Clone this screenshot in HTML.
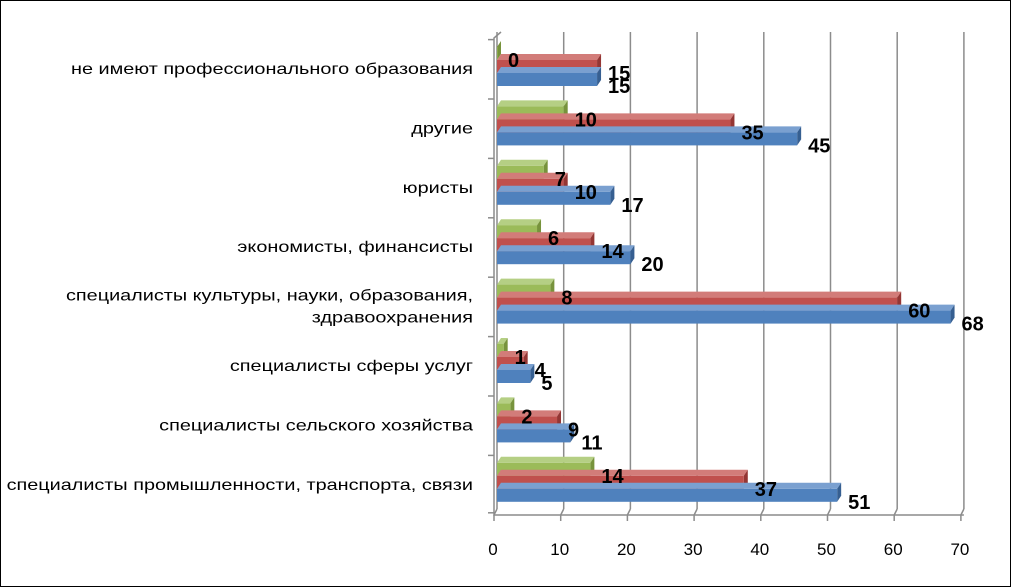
<!DOCTYPE html>
<html><head><meta charset="utf-8"><style>
body{margin:0;background:#fff;}
svg{display:block;font-family:"Liberation Sans","DejaVu Sans",sans-serif;}
</style></head><body>
<svg id="c" width="1011" height="587" xmlns="http://www.w3.org/2000/svg">
<rect x="0.5" y="0.5" width="1010" height="586" fill="#fff" stroke="#000"/>
</svg>
<script>
const categories=["не имеют профессионального образования","другие","юристы","экономисты, финансисты","специалисты культуры, науки, образования,|здравоохранения","специалисты сферы услуг","специалисты сельского хозяйства","специалисты промышленности, транспорта, связи"];
const blueValues=[15,45,17,20,68,5,11,51];
const redValues=[15,35,10,14,60,4,9,37];
const greenValues=[0,10,7,6,8,1,2,14];
const xTicks=[0,10,20,30,40,50,60,70];

const svg=document.getElementById('c');
const NS="http://www.w3.org/2000/svg";
function el(t,a,p){const e=document.createElementNS(NS,t);for(const k in a)e.setAttribute(k,a[k]);(p||svg).appendChild(e);return e;}
const x0=497,scale=6.67,dx=4,dy=-6;
function X(v){return x0+v*scale;}
const rowH=59.4,firstBottom=86;
xTicks.forEach(t=>{
  const g=el('line',{x1:X(t),y1:32,x2:X(t),y2:509,stroke:'#8c8c8c','stroke-width':1.5});
  
  
  const f=el('line',{x1:X(t)-3,y1:515,x2:X(t),y2:509,stroke:'#8c8c8c','stroke-width':1.5});
  
  
});
let ax=el('polyline',{points:`${x0+4},32 ${x0-3},38 ${x0-3},515 ${X(70)},515`,fill:'none',stroke:'#8c8c8c','stroke-width':1.5});


xTicks.forEach(t=>{
  const tk=el('line',{x1:X(t)-3,y1:515,x2:X(t)-3,y2:521,stroke:'#8c8c8c','stroke-width':1.5});
  
  
  const tl=el('text',{x:X(t)-4,y:555,'text-anchor':'middle','font-size':17,fill:'#000'});
  tl.textContent=t;
  
  
});
for(let k=0;k<=8;k++){
  const y=firstBottom-rowH+13+k*rowH+(k==8?-2:0);
  const tk=el('line',{x1:488,y1:Math.min(y,515),x2:x0-3,y2:Math.min(y,515),stroke:'#8c8c8c','stroke-width':1.5});
  
  
}
const series=[
  {vals:greenValues,front:'#9bbb59',top:'#b5cf84',side:'#77933c',off:-26,name:'green'},
  {vals:redValues,front:'#c0504d',top:'#d27c79',side:'#943634',off:-13,name:'red'},
  {vals:blueValues,front:'#4f81bd',top:'#7aa0d0',side:'#365f91',off:0,name:'blue'}
];
const labels=[];
categories.forEach((c,i)=>{
  const bottom=firstBottom+i*rowH;
  const lines=c.split('|');
  const cy=bottom-18;
  lines.forEach((ln,j)=>{
    const t=el('text',{x:473,y:cy+6+(j-(lines.length-1)/2)*22,'text-anchor':'end','font-size':16,fill:'#000'});
    t.textContent=ln;
    
    
    try{const L=t.getComputedTextLength();t.setAttribute('textLength',(L*1.24).toFixed(1));t.setAttribute('lengthAdjust','spacingAndGlyphs');}catch(e){}
  });
  series.forEach(s=>{
    const v=s.vals[i];
    const yb=bottom+s.off, yt=yb-13, x1=X(v);
    const g=el('g',{});
    
    
    el('polygon',{points:`${x0},${yt} ${x0+dx},${yt+dy} ${x1+dx},${yt+dy} ${x1},${yt}`,fill:s.top},g);
    el('polygon',{points:`${x1},${yt} ${x1+dx},${yt+dy} ${x1+dx},${yb+dy} ${x1},${yb}`,fill:s.side},g);
    el('rect',{x:x0,y:yt,width:Math.max(v*scale,0.5),height:13,fill:s.front},g);
    labels.push([x1+11,yb+7,v]);
  });
});
labels.forEach(l=>{
  const lb=el('text',{x:l[0],y:l[1],'font-size':20,'font-weight':'bold',fill:'#000'});
  lb.textContent=l[2];
  
  
});
</script>
</body></html>
